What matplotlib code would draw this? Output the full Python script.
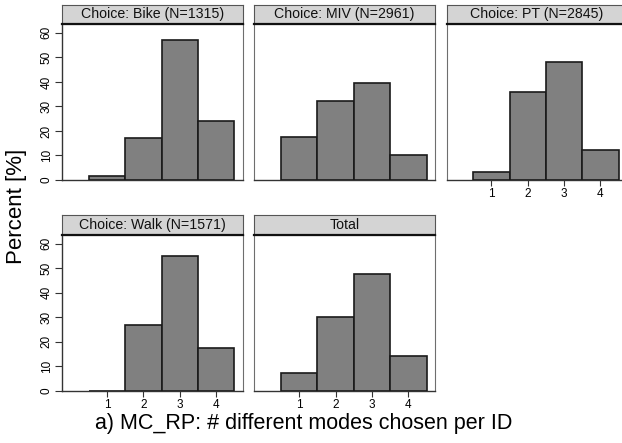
import matplotlib
matplotlib.use("Agg")
import matplotlib.pyplot as plt

plt.rcParams["font.family"] = ["Liberation Sans", "DejaVu Sans"]

# Share of IDs (in %) by number of different modes chosen, per choice group
categories = [1, 2, 3, 4]
panel_titles = ["Choice: Bike (N=1315)", "Choice: MIV (N=2961)", "Choice: PT (N=2845)",
                "Choice: Walk (N=1571)", "Total"]
bike = [1.5, 17.0, 57.0, 24.0]
miv = [17.7, 32.4, 39.6, 10.1]
pt = [3.1, 36.0, 48.0, 12.4]
walk = [0.2, 27.0, 54.9, 17.4]
total = [7.5, 30.3, 47.8, 14.3]
yticks = [0, 10, 20, 30, 40, 50, 60]
series = [bike, miv, pt, walk, total]

W, H = 622, 443
fig = plt.figure(figsize=(W / 100, H / 100), dpi=100)

cols_px = [(62.3, 242.7), (254.3, 435.0), (446.7, 627.0)]
rows_px = [(24.0, 180.0), (234.7, 391.0)]
strip_h = 19.3

layout = [(0, 0), (0, 1), (0, 2), (1, 0), (1, 1)]
show_x = [False, False, True, True, True]

for i, (r, c) in enumerate(layout):
    x0, x1 = cols_px[c]
    y0, y1 = rows_px[r]
    ax = fig.add_axes([x0 / W, 1 - y1 / H, (x1 - x0) / W, (y1 - y0) / H])
    ax.bar(categories, series[i], width=1.0, color="#808080",
           edgecolor="#1a1a1a", linewidth=1.2, zorder=3)
    ax.set_xlim(-0.23, 4.73)
    ax.set_ylim(0, 63.6)
    for side in ["top", "right", "left"]:
        ax.spines[side].set_color("#6e6e6e")
        ax.spines[side].set_linewidth(0.8)
    ax.spines["bottom"].set_color("#333333")
    ax.spines["bottom"].set_linewidth(1.0)
    if c == 0:
        ax.spines["left"].set_color("#333333")
        ax.spines["left"].set_linewidth(1.0)
        ax.set_yticks(yticks)
        ax.set_yticklabels([str(v) for v in yticks], rotation=90, va="center",
                           fontsize=8.5)
        ax.tick_params(axis="y", length=5, width=0.8, color="#333333", pad=2)
    else:
        ax.set_yticks([])
    if show_x[i]:
        ax.set_xticks(categories)
        ax.set_xticklabels([str(v) for v in categories], fontsize=8.5)
        ax.tick_params(axis="x", length=4, width=0.8, color="#333333", pad=1.5)
    else:
        ax.set_xticks([])

    # strip header above each panel
    sax = fig.add_axes([x0 / W, 1 - y0 / H, (x1 - x0) / W, strip_h / H])
    sax.set_xlim(0, 1)
    sax.set_ylim(0, 1)
    sax.set_facecolor("#d4d4d4")
    for side in ["top", "right", "left"]:
        sax.spines[side].set_color("#555555")
        sax.spines[side].set_linewidth(0.8)
    sax.spines["bottom"].set_color("#111111")
    sax.spines["bottom"].set_linewidth(1.6)
    sax.set_xticks([])
    sax.set_yticks([])
    sax.text(0.5, 0.5, panel_titles[i], ha="center", va="center",
             fontsize=10.2, color="#111111")

fig.text(17 / W, 1 - 206 / H, "Percent [%]", rotation=90, ha="center",
         va="center", fontsize=16)
fig.text(304 / W, 1 - 424 / H, "a) MC_RP: # different modes chosen per ID",
         ha="center", va="center", fontsize=15.5)

fig.savefig("out.png", dpi=100, facecolor="white")
